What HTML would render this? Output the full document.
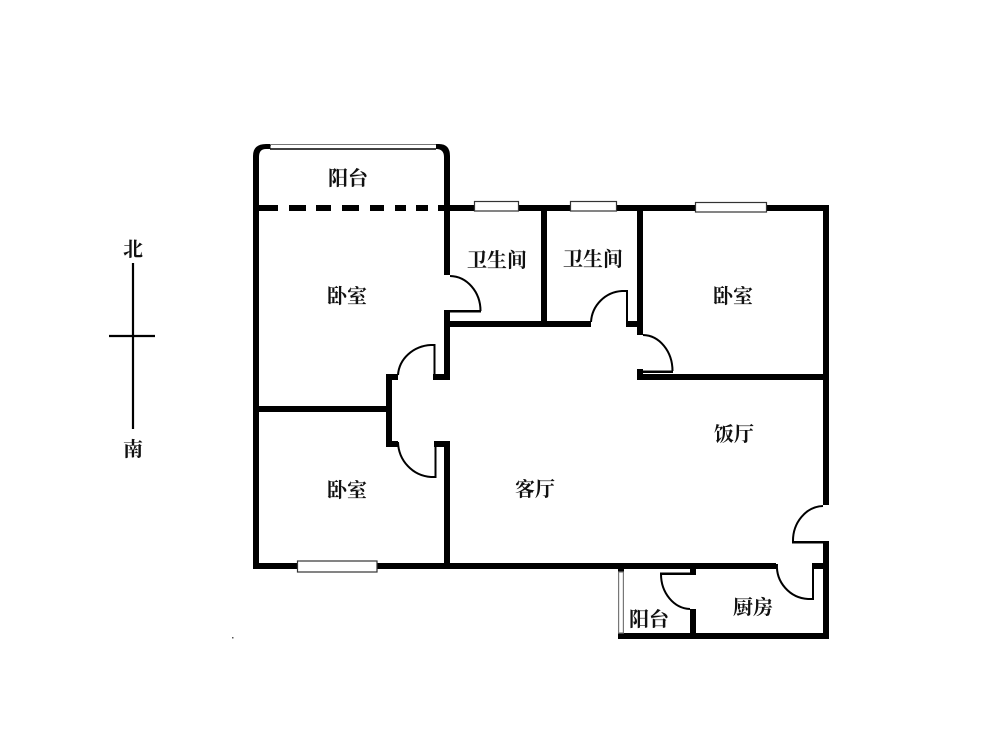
<!DOCTYPE html>
<html><head><meta charset="utf-8"><style>
html,body{margin:0;padding:0;background:#fff;width:1000px;height:755px;overflow:hidden}
svg{display:block;filter:blur(0.35px)}
text{font-family:"Liberation Serif","Noto Serif CJK SC",serif;font-size:20px;font-weight:700;fill:#111;text-anchor:middle}
</style></head><body>
<svg width="1000" height="755" viewBox="0 0 1000 755" xmlns="http://www.w3.org/2000/svg">
<rect width="1000" height="755" fill="#fff"/>
<g fill="#000" stroke="none">
<!-- balcony -->
<path d="M253 210V156Q253 144 266 144H271V149H266Q259 149 259 157V210Z"/>
<path d="M436 144H439Q450 144 450 156V210H444V157Q444 149 436 149Z"/>
<!-- dashes -->
<rect x="259" y="205" width="19" height="6"/><rect x="289" y="205" width="17" height="6"/><rect x="316" y="205" width="15" height="6"/><rect x="342" y="205" width="17" height="6"/><rect x="370" y="205" width="14" height="6"/><rect x="395" y="205" width="11" height="6"/><rect x="416" y="205" width="12" height="6"/><rect x="438" y="205" width="12" height="6"/>
<!-- outer walls -->
<rect x="253" y="205" width="6" height="364"/>
<rect x="253" y="563" width="523" height="6"/>
<rect x="444" y="205" width="6" height="70"/>
<rect x="444" y="310" width="6" height="70"/>
<rect x="433" y="374" width="17" height="6"/>
<rect x="386" y="374" width="12" height="6"/>
<rect x="386" y="374" width="6" height="73"/>
<rect x="386" y="441" width="12" height="6"/>
<rect x="434" y="441" width="16" height="6"/>
<rect x="444" y="441" width="6" height="128"/>
<rect x="259" y="406" width="127" height="6"/>
<rect x="450" y="205" width="378" height="6"/>
<rect x="823" y="205" width="6" height="300"/>
<rect x="823" y="541" width="6" height="98"/>
<rect x="541" y="205" width="6" height="122"/>
<rect x="637" y="205" width="6" height="130"/>
<rect x="450" y="321" width="141" height="6"/>
<rect x="626" y="321" width="17" height="6"/>
<rect x="637" y="374" width="192" height="6"/>
<rect x="637" y="369" width="6" height="11"/>
<rect x="812" y="563" width="17" height="6"/>
<rect x="618" y="633" width="211" height="6"/>
<rect x="618" y="569" width="6" height="3"/>
<rect x="690" y="569" width="6" height="6"/>
<rect x="690" y="609" width="6" height="30"/>
<rect x="450" y="310" width="31" height="2.5"/>
<rect x="643" y="370.5" width="30" height="2.5"/>
<rect x="792" y="541" width="31" height="2.5"/>
<rect x="660" y="572.5" width="30" height="2.5"/>
<rect x="232" y="637" width="1.5" height="1.5" fill="#555"/>
</g>
<!-- door jambs + arcs -->
<g fill="none" stroke="#000" stroke-width="2">
<path d="M450 276A31 35 0 0 1 480.5 311"/>
<path d="M627 327V291H622A33 33 0 0 0 591 322"/>
<path d="M643 335A30 36 0 0 1 672.5 371"/>
<path d="M434.5 375V345H431A35 32 0 0 0 398 375"/>
<path d="M435.5 442V477H431A35 36 0 0 1 398 442"/>
<path d="M823 506A31 35 0 0 0 793 542"/>
<path d="M813 564V599H808A33 33 0 0 1 777 564"/>
<path d="M661 574A30 35 0 0 0 690 609"/>
</g>
<!-- windows -->
<g fill="#fff" stroke="#333" stroke-width="1.2">
<rect x="270.5" y="145.5" width="165" height="3.5" stroke="none"/>
<rect x="474.5" y="201.5" width="44" height="9.5"/>
<rect x="570.5" y="201.5" width="46" height="9.5"/>
<rect x="695.5" y="202.5" width="71" height="9.5"/>
<rect x="297.5" y="561" width="79.5" height="11"/>
<rect x="618.6" y="572" width="4.8" height="61" stroke="#777"/>
</g>
<path d="M270 144.5H436" stroke="#777" stroke-width="1" fill="none"/>
<path d="M270 149H436" stroke="#000" stroke-width="1.4" fill="none"/>
<!-- compass -->
<path d="M133 263V429M109 336H155" stroke="#000" stroke-width="2.2" fill="none"/>
<text x="133" y="256">北</text>
<text x="133" y="456">南</text>
<!-- labels -->
<text x="348" y="185">阳台</text>
<text x="347" y="303">卧室</text>
<text x="497" y="267">卫生间</text>
<text x="593" y="266">卫生间</text>
<text x="733" y="303">卧室</text>
<text x="734" y="441">饭厅</text>
<text x="535" y="496">客厅</text>
<text x="347" y="497">卧室</text>
<text x="753" y="614">厨房</text>
<text x="649" y="626">阳台</text>
</svg>
</body></html>
